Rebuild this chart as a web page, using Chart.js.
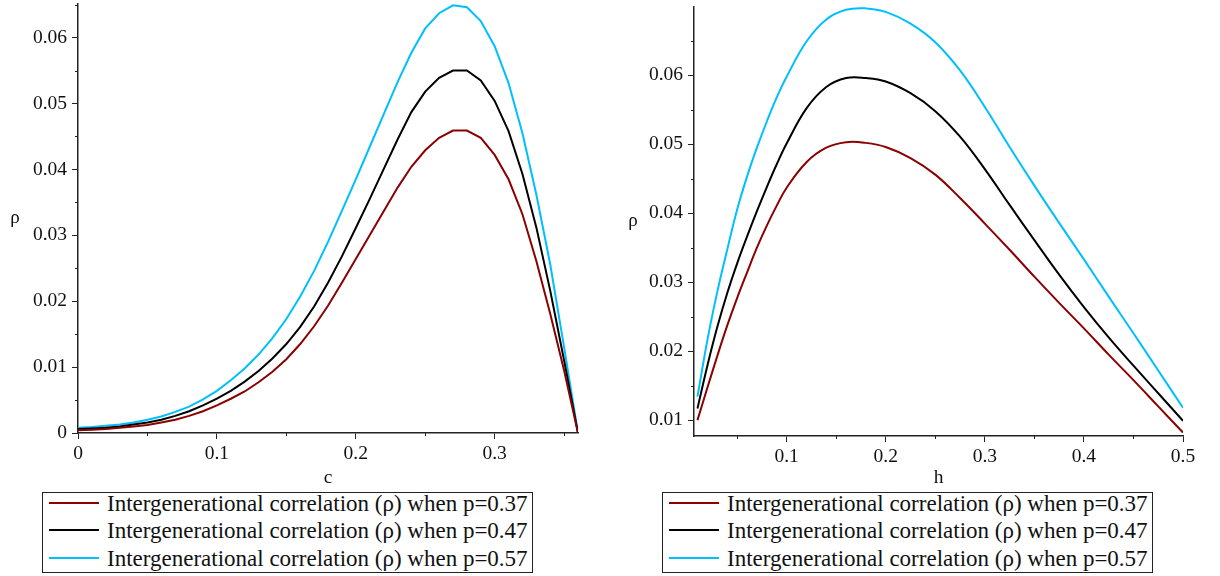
<!DOCTYPE html>
<html>
<head>
<meta charset="utf-8">
<script src="https://cdn.jsdelivr.net/npm/chart.js@4.4.0/dist/chart.umd.min.js"></script>
<style>
  body { margin: 0; background: #fff; }
  #wrap { position: relative; width: 1220px; height: 576px; overflow: hidden; font-family: "Liberation Serif", "Times New Roman", serif; }
  canvas { position: absolute; top: 0; }
  .legend { position: absolute; top: 492px; height: 79px; border: 1.5px solid #222; padding: 0 4px 0 6px; font-size: 23px; color: #111; white-space: nowrap; }
  .legend .row { display: flex; align-items: center; height: 27.5px; }
  .legend .row:first-child { margin-top: -3px; }
  .legend .swatch { width: 50px; height: 0; border-top: 2px solid; margin-right: 8px; position: relative; top: -1px; }
</style>
</head>
<body>
<div id="wrap">
  <canvas id="chartC" width="610" height="490" style="left:0"></canvas>
  <canvas id="chartH" width="610" height="490" style="left:610px"></canvas>
  <div class="legend" id="legendC" style="left:42px"></div>
  <div class="legend" id="legendH" style="left:662px"></div>
</div>
<script>
// left panel: rho against c
var cValues = [0, 0.01, 0.02, 0.03, 0.04, 0.05, 0.06, 0.07, 0.08, 0.09, 0.10, 0.11, 0.12, 0.13, 0.14, 0.15, 0.16, 0.17, 0.18,
  0.19, 0.20, 0.21, 0.22, 0.23, 0.24, 0.25, 0.26, 0.27, 0.28, 0.29, 0.30, 0.31, 0.32, 0.33, 0.34, 0.35, 0.36];
var rhoC37 = [0.0004, 0.0005, 0.0006, 0.0008, 0.0010, 0.0012, 0.0016, 0.0020, 0.0026, 0.0033, 0.0042, 0.0052, 0.0063, 0.0077,
  0.0093, 0.0112, 0.0135, 0.0162, 0.0193, 0.0228, 0.0264, 0.0300, 0.0336, 0.0372, 0.0404, 0.0429, 0.0448, 0.0459, 0.0459,
  0.0448, 0.0422, 0.0385, 0.0332, 0.0261, 0.0181, 0.0095, 0];
var rhoC47 = [0.0006, 0.0007, 0.0008, 0.0010, 0.0013, 0.0016, 0.0020, 0.0026, 0.0033, 0.0042, 0.0052, 0.0064, 0.0078, 0.0094,
  0.0113, 0.0135, 0.0161, 0.0192, 0.0228, 0.0268, 0.0311, 0.0355, 0.0400, 0.0445, 0.0487, 0.0518, 0.0539, 0.0550, 0.0550,
  0.0535, 0.0504, 0.0458, 0.0393, 0.0312, 0.0216, 0.0110, 0];
var rhoC57 = [0.0008, 0.0009, 0.0011, 0.0013, 0.0016, 0.0020, 0.0025, 0.0032, 0.0040, 0.0051, 0.0064, 0.0080, 0.0098, 0.0119,
  0.0144, 0.0173, 0.0207, 0.0246, 0.0290, 0.0337, 0.0385, 0.0434, 0.0483, 0.0532, 0.0577, 0.0614, 0.0637, 0.0649, 0.0646,
  0.0625, 0.0587, 0.0531, 0.0455, 0.0362, 0.0256, 0.0130, 0];

// right panel: rho against h
var hValues = [0.01, 0.02, 0.03, 0.04, 0.05, 0.06, 0.07, 0.08, 0.09, 0.10, 0.12, 0.14, 0.16, 0.18, 0.20, 0.225, 0.25, 0.275,
  0.30, 0.325, 0.35, 0.375, 0.40, 0.425, 0.45, 0.475, 0.50];
var rhoH37 = [0.0100, 0.0147, 0.0193, 0.0237, 0.0277, 0.0314, 0.0350, 0.0382, 0.0411, 0.0437, 0.0474, 0.0495, 0.0503, 0.0502,
  0.0496, 0.0480, 0.0456, 0.0422, 0.0385, 0.0347, 0.0308, 0.0270, 0.0233, 0.0195, 0.0158, 0.0120, 0.0082];
var rhoH47 = [0.0117, 0.0179, 0.0235, 0.0284, 0.0327, 0.0366, 0.0403, 0.0438, 0.0471, 0.0501, 0.0552, 0.0583, 0.0596, 0.0596,
  0.0591, 0.0574, 0.0548, 0.0511, 0.0464, 0.0412, 0.0361, 0.0311, 0.0264, 0.0220, 0.0179, 0.0139, 0.0099];
var rhoH57 = [0.0134, 0.0216, 0.0286, 0.0347, 0.0405, 0.0453, 0.0495, 0.0533, 0.0568, 0.0598, 0.0649, 0.0681, 0.0695, 0.0697,
  0.0692, 0.0675, 0.0648, 0.0607, 0.0554, 0.0496, 0.0440, 0.0386, 0.0333, 0.0279, 0.0226, 0.0172, 0.0118];

var seriesLabels = [
  "Intergenerational correlation (\u03c1) when p=0.37",
  "Intergenerational correlation (\u03c1) when p=0.47",
  "Intergenerational correlation (\u03c1) when p=0.57"
];
var seriesColors = ["#8b0000", "#000000", "#00bfff"];

var axisColor = "#222";
var serif = "'Liberation Serif', 'Times New Roman', serif";

function toPoints(xs, ys) {
  return xs.map(function(x, i) {
    return { x: x, y: ys[i] };
  });
}

function fmt(value) {
  return Number(value.toFixed(4)).toString();
}

// Maple-style short ticks halfway between the labelled ones
var minorTicks = {
  id: "minorTicks",
  afterDraw: function(chart) {
    var ctx = chart.ctx;
    var area = chart.chartArea;
    ctx.save();
    ctx.strokeStyle = axisColor;
    ctx.lineWidth = 1;
    ["x", "y"].forEach(function(key) {
      var scale = chart.scales[key];
      var step = scale.options.ticks.stepSize;
      var vals = scale.ticks.map(function(t) { return t.value - step / 2; });
      vals.push(scale.ticks[scale.ticks.length - 1].value + step / 2);
      vals.forEach(function(v) {
        if (v < scale.min || v > scale.max) return;
        var p = Math.round(scale.getPixelForValue(v)) + 0.5;
        ctx.beginPath();
        if (key === "x") {
          ctx.moveTo(p, area.bottom);
          ctx.lineTo(p, area.bottom + 3);
        } else {
          ctx.moveTo(area.left - 3, p);
          ctx.lineTo(area.left, p);
        }
        ctx.stroke();
      });
    });
    ctx.restore();
  }
};

// upright rho label left of the y axis
var yTitle = {
  id: "yTitle",
  afterDraw: function(chart, args, opts) {
    var ctx = chart.ctx;
    var area = chart.chartArea;
    ctx.save();
    ctx.fillStyle = "#111";
    ctx.font = "19px " + serif;
    ctx.textAlign = "center";
    ctx.textBaseline = "middle";
    ctx.fillText(opts.text, opts.x, (area.top + area.bottom) / 2);
    ctx.restore();
  }
};

function makeScale(min, max, step, title, size) {
  return {
    type: "linear",
    min: min,
    max: max,
    border: { display: true, color: axisColor, width: 1.5 },
    grid: { display: true, drawOnChartArea: false, drawTicks: true, tickLength: 6, tickColor: axisColor, tickWidth: 1 },
    ticks: {
      stepSize: step,
      includeBounds: false,
      autoSkip: false,
      maxRotation: 0,
      padding: title ? 3 : 5,
      color: "#111",
      font: { family: serif, size: 19.5 },
      callback: fmt
    },
    title: {
      display: !!title,
      text: title || "",
      color: "#111",
      font: { family: serif, size: 19.5 },
      padding: { top: 0, bottom: 0 }
    },
    afterFit: function(scale) {
      if (scale.isHorizontal()) {
        scale.height = size;
        scale.paddingLeft = 0;
        scale.paddingRight = 0;
      } else {
        scale.width = size;
        scale.paddingTop = 0;
        scale.paddingBottom = 0;
      }
    }
  };
}

function makeChart(id, xs, series, smooth, xScale, yScale, padding, rhoX) {
  var datasets = series.map(function(ys, i) {
    return {
      label: seriesLabels[i],
      data: toPoints(xs, ys),
      borderColor: seriesColors[i],
      backgroundColor: seriesColors[i],
      borderWidth: 2,
      pointRadius: 0,
      fill: false,
      tension: smooth ? 0.4 : 0
    };
  });
  return new Chart(document.getElementById(id), {
    type: "line",
    data: { datasets: datasets },
    options: {
      responsive: false,
      animation: false,
      devicePixelRatio: 1,
      layout: { padding: padding },
      plugins: {
        legend: { display: false },
        tooltip: { enabled: false },
        yTitle: { text: "\u03c1", x: rhoX }
      },
      scales: { x: xScale, y: yScale }
    },
    plugins: [minorTicks, yTitle]
  });
}

function makeLegend(id) {
  var html = "";
  for (var i = 0; i < seriesLabels.length; i++) {
    html += '<div class="row"><span class="swatch" style="border-color:' + seriesColors[i] + '"></span>' +
      seriesLabels[i] + "</div>";
  }
  document.getElementById(id).innerHTML = html;
}

makeChart("chartC", cValues, [rhoC37, rhoC47, rhoC57], false,
  makeScale(0, 0.36, 0.1, "c", 57),
  makeScale(0, 0.0651, 0.01, null, 78),
  { top: 4, right: 32, left: 0, bottom: 0 }, 15);

makeChart("chartH", hValues, [rhoH37, rhoH47, rhoH57], true,
  makeScale(0.0065, 0.5, 0.1, "h", 54),
  makeScale(0.0077, 0.0699, 0.01, null, 84),
  { top: 7, right: 37, left: 0, bottom: 0 }, 23);

makeLegend("legendC");
makeLegend("legendH");
</script>
</body>
</html>
